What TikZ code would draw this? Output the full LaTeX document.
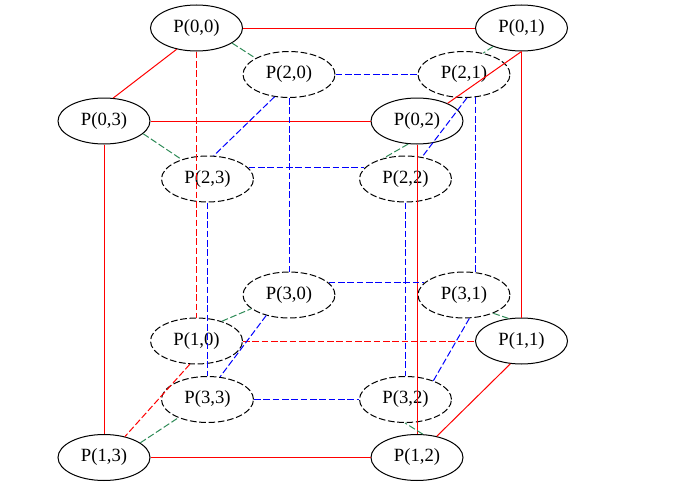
\documentclass[tikz,border=0pt]{standalone}
\usepackage{fontspec}
\setmainfont{Liberation Serif}
\usetikzlibrary{shapes.geometric}
\definecolor{edgegreen}{RGB}{46,139,87}
\tikzset{
  pnode/.style={ellipse, draw=black, line width=0.75pt, minimum width=69pt, minimum height=34.5pt, inner sep=0pt, font=\fontsize{14}{16}\selectfont},
  pdash/.style={pnode, dash pattern=on 5pt off 2pt},
  redline/.style={draw=red, line width=0.75pt},
  reddash/.style={redline, dash pattern=on 5pt off 2pt},
  bluedash/.style={draw=blue, line width=0.75pt, dash pattern=on 5pt off 2pt},
  greendash/.style={draw=edgegreen, line width=0.75pt, dash pattern=on 5pt off 2pt}
}
\begin{document}
\begin{tikzpicture}[x=0.75pt, y=-0.75pt]
\useasboundingbox (0,0) rectangle (676,489);
% outer cube
\node[pnode] (P00) at (196.5,28) {P(0,0)};
\node[pnode] (P01) at (521.5,28) {P(0,1)};
\node[pnode] (P03) at (104,121) {P(0,3)};
\node[pnode] (P02) at (417,121) {P(0,2)};
\node[pdash] (P10) at (196.5,341) {P(1,0)};
\node[pnode] (P11) at (521.5,341) {P(1,1)};
\node[pnode] (P13) at (104,457.5) {P(1,3)};
\node[pnode] (P12) at (417,457.5) {P(1,2)};
% inner cube
\node[pdash] (P20) at (289,74.5) {P(2,0)};
\node[pdash] (P21) at (464,74.5) {P(2,1)};
\node[pdash] (P23) at (207.5,179) {P(2,3)};
\node[pdash] (P22) at (405.5,179) {P(2,2)};
\node[pdash] (P30) at (289,295) {P(3,0)};
\node[pdash] (P31) at (464,295) {P(3,1)};
\node[pdash] (P33) at (207.5,399.5) {P(3,3)};
\node[pdash] (P32) at (405.5,399.5) {P(3,2)};
% red edges
\draw[redline] (P00) -- (P01);
\draw[redline] (P00.227) -- (P03.68);
\draw[redline] (P03) -- (P02);
\draw[redline] (P01.270) -- (P02.30);
\draw[redline] (P03) -- (P13);
\draw[redline] (P01) -- (P11);
\draw[redline] (P02) -- (P12);
\draw[redline] (P13) -- (P12);
\draw[redline] (P11.244) -- (P12.47);
\draw[reddash] (P00) -- (P10);
\draw[reddash] (P10) -- (P11);
\draw[reddash] (P10.254) -- (P13.45);
% blue edges
\draw[bluedash] (P20) -- (P21);
\draw[bluedash] (P20.237) -- (P23.75);
\draw[bluedash] (P23.15) -- (P22.165);
\draw[bluedash] (P21.277) -- (P22.53);
\draw[bluedash] (P20) -- (P30);
\draw[bluedash] (P21.297) -- (P31.63);
\draw[bluedash] (P23) -- (P33);
\draw[bluedash] (P22) -- (P32);
\draw[bluedash] (P30.17) -- (P31.163);
\draw[bluedash] (P30.222) -- (P33.61);
\draw[bluedash] (P33) -- (P32);
\draw[bluedash] (P31.283) -- (P32.34);
% green edges
\draw[greendash] (P00.337) -- (P20.154);
\draw[greendash] (P01.213) -- (P21.48);
\draw[greendash] (P03.342) -- (P23.143);
\draw[greendash] (P02.249) -- (P22.137);
\draw[greendash] (P10.38) -- (P30.200);
\draw[greendash] (P11.120) -- (P31.328);
\draw[greendash] (P13.22) -- (P33.212);
\draw[greendash] (P12.76) -- (P32.269);
\end{tikzpicture}
\end{document}
